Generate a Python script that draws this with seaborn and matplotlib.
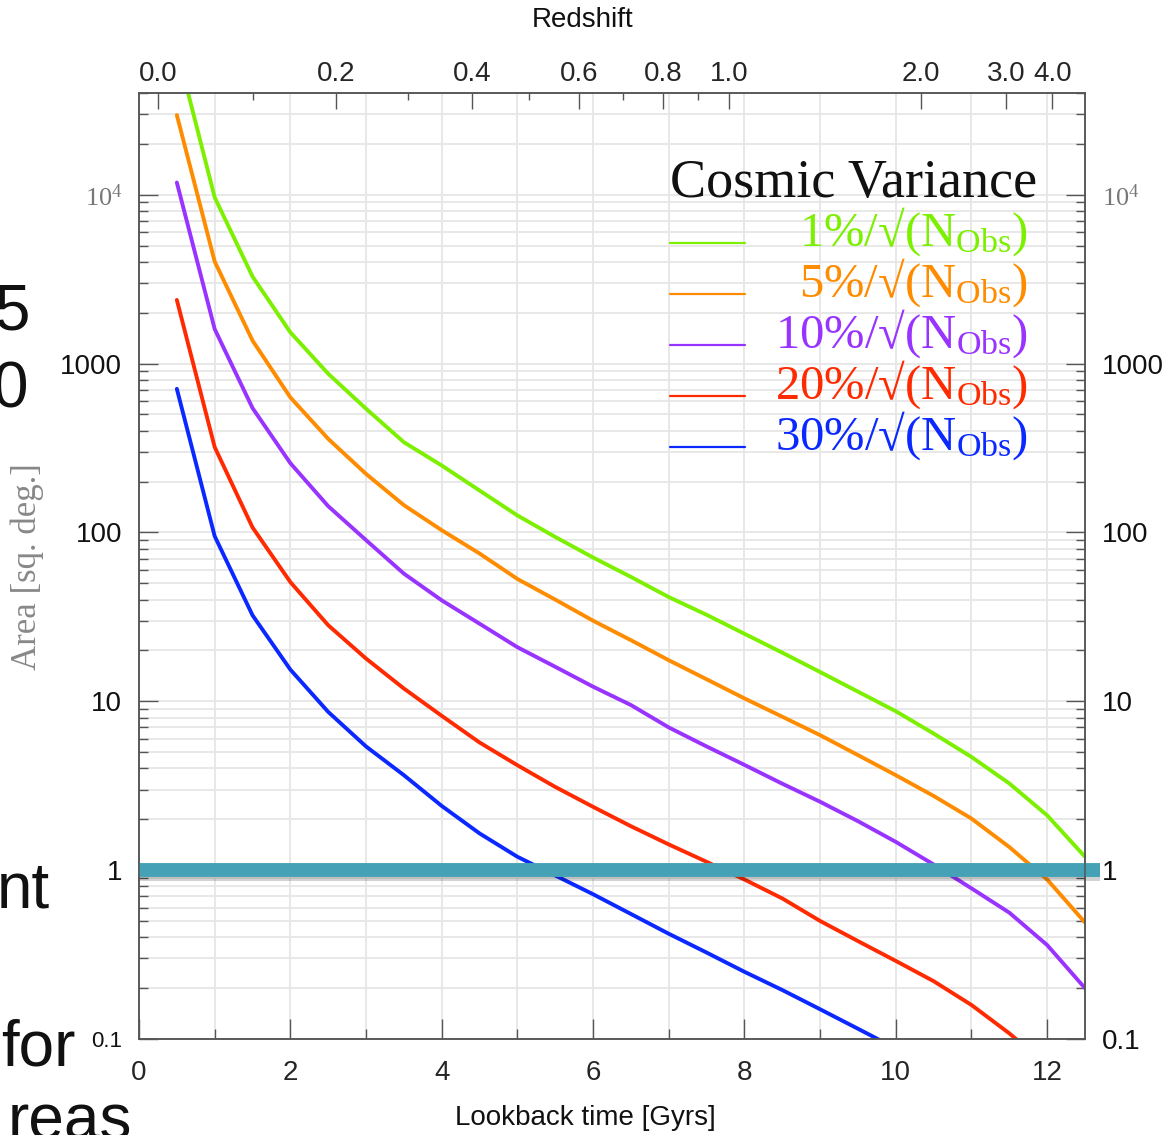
import numpy as np
import pandas as pd
import matplotlib
matplotlib.use("Agg")
import matplotlib.pyplot as plt
import seaborn as sns
from matplotlib import patheffects as pe
from matplotlib.lines import Line2D
from matplotlib.ticker import LogLocator, NullFormatter

# ---------------- data ----------------
lookback = [0.5, 1.0, 1.5, 2.0, 2.5, 3.0, 3.5, 4.0, 4.5, 5.0, 5.5, 6.0, 6.5,
            7.0, 7.5, 8.0, 8.5, 9.0, 9.5, 10.0, 10.5, 11.0, 11.5, 12.0, 12.5]

cv_1pct = [73000, 9640, 3275, 1530, 870, 540, 342, 249, 177, 126, 94, 71, 54.5,
           41.4, 32.5, 25.1, 19.4, 14.9, 11.4, 8.73, 6.44, 4.68, 3.26, 2.11, 1.2]
cv_5pct = [29600, 4020, 1368, 630, 358, 222, 145, 103, 75, 53, 40, 30, 23,
           17.5, 13.5, 10.4, 8.1, 6.3, 4.8, 3.65, 2.75, 2.02, 1.37, 0.88, 0.49]
cv_10pct = [11800, 1600, 545, 257, 143, 90, 57, 39.6, 28.8, 20.9, 16, 12.2, 9.5,
            7.0, 5.4, 4.2, 3.25, 2.54, 1.95, 1.47, 1.08, 0.78, 0.56, 0.36, 0.2]
cv_20pct = [2380, 320, 107, 50.8, 28.2, 17.9, 11.9, 8.2, 5.7, 4.18, 3.11, 2.37,
            1.82, 1.42, 1.12, 0.88, 0.68, 0.5, 0.38, 0.29, 0.22, 0.159, 0.108, 0.07]
cv_30pct = [708, 95, 32.3, 15.4, 8.65, 5.4, 3.65, 2.4, 1.65, 1.2, 0.93, 0.72,
            0.55, 0.42, 0.325, 0.25, 0.195, 0.15, 0.115, 0.088]

series_names = ["1%", "5%", "10%", "20%", "30%"]
series_values = [cv_1pct, cv_5pct, cv_10pct, cv_20pct, cv_30pct]
series_colors = ["#7cf000", "#ff8c00", "#9933ff", "#ff2a00", "#0a28ff"]

legend_labels = [r"1%/√(N$_{\rm Obs}$)", r"5%/√(N$_{\rm Obs}$)",
                 r"10%/√(N$_{\rm Obs}$)", r"20%/√(N$_{\rm Obs}$)",
                 r"30%/√(N$_{\rm Obs}$)"]

x_major = [0, 2, 4, 6, 8, 10, 12]
x_minor = [1, 3, 5, 7, 9, 11]
y_major = [0.1, 1, 10, 100, 1000, 10000]
y_labels = ["0.1", "1", "10", "100", "1000", r"$10^4$"]

redshift_labels = ["0.0", "0.2", "0.4", "0.6", "0.8", "1.0", "2.0", "3.0", "4.0"]
redshift_pos = [0.25, 2.60, 4.40, 5.82, 6.92, 7.80, 10.33, 11.46, 12.07]
redshift_minor_pos = [1.51, 3.56, 5.15, 6.40, 7.39]

threshold_area = 1.0

# ---------------- style ----------------
sns.set_style("ticks")
plt.rcParams["font.family"] = ["Liberation Sans", "DejaVu Sans"]
plt.rcParams["mathtext.fontset"] = "custom"
plt.rcParams["mathtext.rm"] = "Liberation Serif"
plt.rcParams["mathtext.it"] = "Liberation Serif:italic"
plt.rcParams["mathtext.bf"] = "Liberation Serif:bold"

W, H = 1173, 1135
fig = plt.figure(figsize=(W / 100, H / 100), dpi=100)
L, R, T, B = 139, 1085, 93, 1039
ax = fig.add_axes([L / W, 1 - B / H, (R - L) / W, (B - T) / H])
ax2 = ax.twiny()

rows = []
for name, vals in zip(series_names, series_values):
    for t, v in zip(lookback, vals):
        rows.append({"lookback": t, "area": v, "series": name})
df = pd.DataFrame(rows)

sns.lineplot(data=df, x="lookback", y="area", hue="series",
             hue_order=series_names, palette=dict(zip(series_names, series_colors)),
             legend=False, errorbar=None, linewidth=2.8, ax=ax)

ax.set_yscale("log")
ax.set_xlim(0, 12.5)
ax.set_ylim(0.1, 4e4)
ax.set_xlabel("")
ax.set_ylabel("")

# grid
ax.set_axisbelow(True)
ax.grid(True, which="both", color="#e6e6e6", lw=1.3)

# x ticks bottom
ax.set_xticks(x_major)
ax.set_xticks(x_minor, minor=True)
ax.tick_params(axis="x", which="major", direction="in", length=14.5, width=1.0,
               color="#555555", labelsize=20, pad=15, top=False, bottom=True)
ax.tick_params(axis="x", which="minor", direction="in", length=7, width=1.0,
               color="#555555", top=False, bottom=True)

# y ticks
ax.set_yticks(y_major, labels=y_labels)
ax.yaxis.set_minor_locator(LogLocator(base=10, subs=np.arange(2, 10), numticks=30))
ax.yaxis.set_minor_formatter(NullFormatter())
ax.tick_params(axis="y", which="major", direction="in", length=13.5, width=1.0,
               color="#555555", labelsize=20, pad=12, left=True, right=True,
               labelleft=True, labelright=True)
ax.tick_params(axis="y", which="minor", direction="in", length=6.5, width=1.0,
               color="#555555", left=True, right=True)
for tick, val in zip(ax.yaxis.get_major_ticks(), y_major):
    for lab in (tick.label1, tick.label2):
        if val == 10000:
            lab.set_color("#777777")
            lab.set_fontsize(19)
        else:
            lab.set_color("#111111")
    if val == 0.1:
        tick.label1.set_fontsize(16)

# top redshift axis
ax2.set_xlim(ax.get_xlim())
ax2.set_xticks(redshift_pos, labels=redshift_labels)
ax2.set_xticks(redshift_minor_pos, minor=True)
ax2.tick_params(axis="x", which="major", direction="in", length=11.3, width=1.0,
                color="#555555", labelsize=20, pad=4)
ax2.tick_params(axis="x", which="minor", direction="in", length=5.3, width=1.0,
                color="#555555")

for a in (ax, ax2):
    for s in a.spines.values():
        s.set_color("#555555")
        s.set_linewidth(1.1)

# threshold line (slide annotation)
ax.axhline(threshold_area, xmin=-0.001, xmax=1.016, color="#45a2b6", lw=10,
           clip_on=False, solid_capstyle="butt", zorder=5,
           path_effects=[pe.SimpleLineShadow(offset=(0, -3), shadow_color="black", alpha=0.18),
                         pe.Normal()])

# legend (manual, like the original)
ax.text(0.561, 0.890, "Cosmic Variance", transform=ax.transAxes, ha="left",
        va="baseline", fontsize=39, family=["Liberation Serif", "DejaVu Serif"],
        color="#111111")
leg_y = [0.8414, 0.7875, 0.7336, 0.6797, 0.6258]
for yy, lab, col in zip(leg_y, legend_labels, series_colors):
    ax.add_line(Line2D([0.561, 0.641], [yy, yy], transform=ax.transAxes,
                       color=col, lw=1.6))
    ax.text(0.9395, yy - 0.003, lab, transform=ax.transAxes, ha="right",
            va="baseline", fontsize=35, color=col,
            family=["Liberation Serif", "DejaVu Serif"])

# axis titles
fig.text(585 / W, 1 - 1118 / H, "Lookback time [Gyrs]", ha="center", va="center",
         fontsize=20, color="#111111")
fig.text(583 / W, 1 - 20 / H, "Redshift", ha="center", va="center",
         fontsize=20, color="#111111")
fig.text(27 / W, 1 - 567 / H, "Area [sq. deg.]", ha="center", va="center",
         rotation=90, fontsize=25, color="#888888",
         family=["Liberation Serif", "DejaVu Serif"])

# fragments of surrounding slide text (cut by the image edge, as in the reference)
fragments = [("5", 30, 330), ("0", 28, 408), ("nt", 50, 908), ("for", 75, 1066),
             ("reas", 132, 1140)]
for txt, xr, yb in fragments:
    fig.text(xr / W, 1 - yb / H, txt, ha="right", va="baseline", fontsize=46,
             color="#111111")

fig.savefig("out.png", dpi=100)
